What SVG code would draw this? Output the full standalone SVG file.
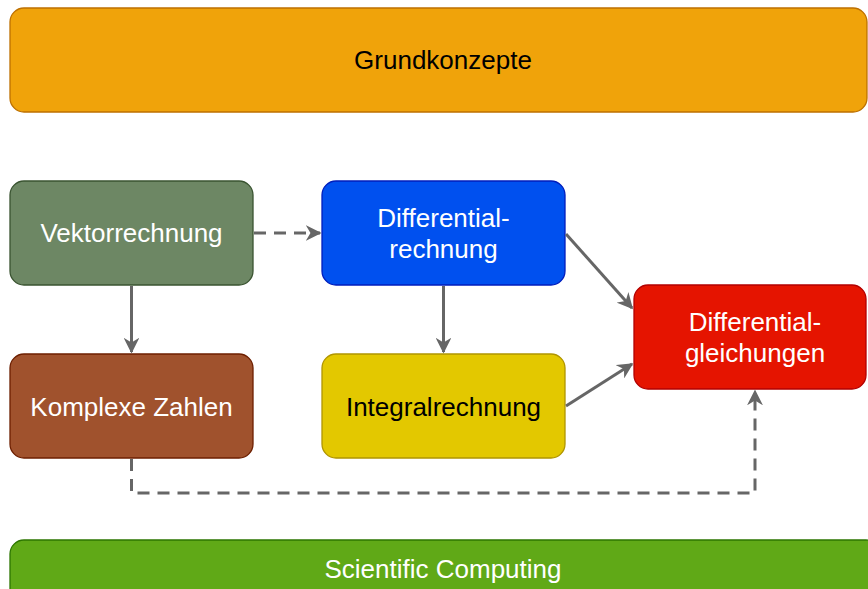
<svg xmlns="http://www.w3.org/2000/svg" width="868" height="589" viewBox="0 0 868 589">
<style>
.box{stroke-width:1.3}
.t{font-family:"Liberation Sans",Arial,sans-serif;font-size:26px;text-anchor:middle;dominant-baseline:central;fill:#ffffff}
.dark{fill:#000000}
.c{fill:none;stroke:#666666;stroke-width:3}
.d{stroke-dasharray:12 8}
</style>
<defs>
<marker id="ah" viewBox="0 0 10 10" refX="9" refY="5" markerWidth="5.3" markerHeight="5.3" orient="auto" markerUnits="strokeWidth">
<path d="M0,0 L10,5 L0,10 L3,5 z" fill="#666666"/>
</marker>
</defs>
<rect width="868" height="589" fill="#ffffff"/>
<g id="grundkonzepte">
<rect class="box" x="10" y="8" width="857" height="104" rx="14" fill="#f0a30a" stroke="#bd7000"/>
<text class="t dark" x="443" y="60">Grundkonzepte</text>
</g>
<g id="vektorrechnung">
<rect class="box" x="10" y="181" width="243" height="104" rx="14" fill="#6d8764" stroke="#3a5431"/>
<text class="t" x="131.5" y="233">Vektorrechnung</text>
</g>
<g id="differentialrechnung">
<rect class="box" x="322" y="181" width="243" height="104" rx="14" fill="#0050ef" stroke="#001dbc"/>
<text class="t" x="443.5" y="218">Differential-</text>
<text class="t" x="443.5" y="249">rechnung</text>
</g>
<g id="komplexe">
<rect class="box" x="10" y="354" width="243" height="104" rx="14" fill="#a0522d" stroke="#6d1f00"/>
<text class="t" x="131.5" y="407">Komplexe Zahlen</text>
</g>
<g id="integralrechnung">
<rect class="box" x="322" y="354" width="243" height="104" rx="14" fill="#e3c800" stroke="#b09500"/>
<text class="t dark" x="443.5" y="407">Integralrechnung</text>
</g>
<g id="dgl">
<rect class="box" x="634" y="285" width="232" height="104" rx="14" fill="#e51400" stroke="#b20000"/>
<text class="t" x="755" y="322">Differential-</text>
<text class="t" x="755" y="353">gleichungen</text>
</g>
<g id="scientific">
<rect class="box" x="10" y="540" width="870" height="80" rx="14" fill="#60a917" stroke="#2d7600"/>
<text class="t" x="443" y="569">Scientific Computing</text>
</g>
<g id="connectors">
<path class="c" d="M131.5,286 L131.5,352" marker-end="url(#ah)"/>
<path class="c d" d="M254,233 L320,233" marker-end="url(#ah)"/>
<path class="c" d="M443.5,286 L443.5,352" marker-end="url(#ah)"/>
<path class="c" d="M566,234 L632,308" marker-end="url(#ah)"/>
<path class="c" d="M566,406 L632,364" marker-end="url(#ah)"/>
<path class="c d" d="M131.5,459 L131.5,493 L755,493 L755,391" marker-end="url(#ah)"/>
</g>
</svg>
